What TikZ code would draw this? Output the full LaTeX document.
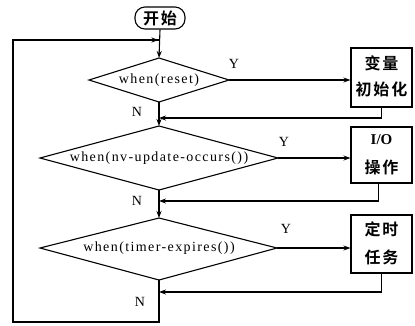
\documentclass[tikz,border=0pt]{standalone}
\usepackage{fontspec}
\setmainfont{Liberation Serif}
\newfontfamily\cjk{Noto Sans CJK SC}[BoldFont={Noto Sans CJK SC Bold},LetterSpace=12]
\newfontfamily\lat{Liberation Serif}[LetterSpace=10]
\usetikzlibrary{arrows.meta}
\begin{document}
\begin{tikzpicture}[x=1pt,y=-1pt,
  line/.style={line width=1.1pt},
  arr/.style={line width=1.1pt,-{Stealth[length=7pt,width=5pt]}},
  cond/.style={font=\fontsize{14}{16}\selectfont\lat, inner sep=0},
  lab/.style={font=\fontsize{14}{16}\selectfont, inner sep=0},
  taskbox/.style={draw,line width=1.1pt,minimum width=61pt,inner sep=0},
  tasktext/.style={font=\fontsize{16}{18}\selectfont\cjk\bfseries, inner sep=0},
  startbox/.style={draw,line width=1.1pt,rounded corners=10pt,minimum width=50pt,minimum height=22pt,inner sep=0,font=\fontsize{16}{18}\selectfont\cjk\bfseries}]
\useasboundingbox (0,0) rectangle (415,325);
% start
\node[startbox] (start) at (160,18) {开始};
% diamonds
\coordinate (d1t) at (159,58); \coordinate (d1b) at (159,102);
\coordinate (d1l) at (89,80);  \coordinate (d1r) at (229,80);
\draw[line] (d1t) -- (d1r) -- (d1b) -- (d1l) -- cycle;
\node[cond] (c1) at (159,80) {when(reset)};
\coordinate (d2t) at (159,126); \coordinate (d2b) at (159,190);
\coordinate (d2l) at (40,158);  \coordinate (d2r) at (278,158);
\draw[line] (d2t) -- (d2r) -- (d2b) -- (d2l) -- cycle;
\node[cond] (c2) at (159,158) {when(nv-update-occurs())};
\coordinate (d3t) at (159,218); \coordinate (d3b) at (159,280);
\coordinate (d3l) at (40,248);  \coordinate (d3r) at (277,248);
\draw[line] (d3t) -- (d3r) -- (d3b) -- (d3l) -- cycle;
\node[cond] (c3) at (159,248) {when(timer-expires())};
% boxes
\node[taskbox,minimum height=59pt] (b1) at (381.5,77.5) {};
\node[tasktext] (b1a) at (381.5,63) {变量};
\node[tasktext] (b1b) at (381.5,89) {初始化};
\node[taskbox,minimum height=56pt] (b2) at (381.5,155) {};
\node[font=\fontsize{15}{17}\selectfont\bfseries,inner sep=0] (b2a) at (381.5,140) {I/O};
\node[tasktext] (b2b) at (381.5,167) {操作};
\node[taskbox,minimum height=58pt] (b3) at (381.5,244) {};
\node[tasktext] (b3a) at (381.5,229) {定时};
\node[tasktext] (b3b) at (381.5,257) {任务};
% labels
\node[lab] (y1) at (234,64) {Y};
\node[lab] (y2) at (284,142) {Y};
\node[lab] (y3) at (286,229) {Y};
\node[lab] (n1) at (137,112) {N};
\node[lab] (n2) at (137,201) {N};
\node[lab] (n3) at (140,302) {N};
% coordinates
\coordinate (j0) at (159,40);
\coordinate (j1) at (159,118);
\coordinate (j2) at (159,201);
\coordinate (j3) at (159,292);
\coordinate (lb) at (159,322);
\coordinate (lbl) at (13,322);
\coordinate (ltl) at (13,40);
% connectors
\draw[arr] (start.south) -- (d1t);
\draw[arr] (d1r) -- (b1.west |- d1r);
\draw[arr] (d2r) -- (b2.west |- d2r);
\draw[arr] (d3r) -- (b3.west |- d3r);
\draw[arr] (d1b) -- (d2t);
\draw[arr] (d2b) -- (d3t);
\draw[line] (d3b) -- (lb) -- (lbl) -- (ltl) -- (j0);
\draw[arr] (ltl) -- ([xshift=-0.5pt]j0);
\draw[line] (b1.south) -- (b1.south |- j1);
\draw[arr] (b1.south |- j1) -- (j1);
\draw[line] ([xshift=-3pt]b2.south) -- ([xshift=-3pt]b2.south |- j2);
\draw[arr] ([xshift=-3pt]b2.south |- j2) -- (j2);
\draw[line] (b3.south) -- (b3.south |- j3);
\draw[arr] (b3.south |- j3) -- (j3);
\end{tikzpicture}
\end{document}
